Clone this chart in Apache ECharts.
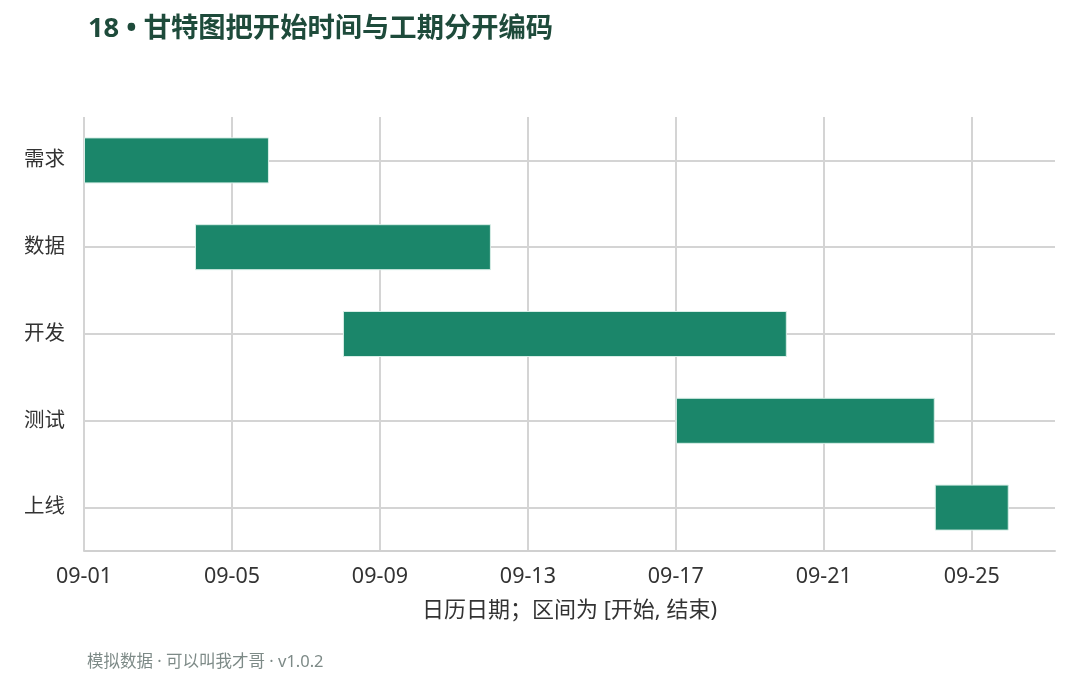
<!DOCTYPE html>
<html>
<head>
<meta charset="utf-8">
<script src="https://cdn.jsdelivr.net/npm/echarts@6/dist/echarts.min.js"></script>
<style>
html,body{margin:0;padding:0;background:#fff;}
#c{width:1080px;height:675px;}
</style>
</head>
<body>
<div id="c"></div>
<script>
const tasks = ['需求', '数据', '开发', '测试', '上线'];
const startDates = ['09-01', '09-04', '09-08', '09-17', '09-24'];
const durations = [5, 8, 12, 7, 2];

const dayIndex = s => parseInt(s.slice(3), 10) - 1;
const offsets = startDates.map(dayIndex);
const fmtDay = v => '09-' + String(Math.round(v) + 1).padStart(2, '0');

const FONT = '"Noto Sans", "Noto Sans CJK SC", sans-serif';
const chart = echarts.init(document.getElementById('c'));
chart.setOption({
  backgroundColor: '#ffffff',
  animation: false,
  textStyle: { fontFamily: FONT },
  title: {
    text: '18 • 甘特图把开始时间与工期分开编码',
    left: 83, top: 11,
    textStyle: { fontSize: 27.3, fontWeight: 'bold', color: '#1e4b3b', fontFamily: FONT }
  },
  graphic: [{
    type: 'text', left: 87, top: 654,
    style: { text: '模拟数据 · 可以叫我才哥 · v1.0.2', fontSize: 16.5, fill: '#7d8a87', fontFamily: FONT }
  }],
  grid: { left: 84, right: 25, top: 117, bottom: 124, containLabel: false },
  xAxis: {
    type: 'value', min: 0, max: 26.25, interval: 4,
    name: '日历日期；区间为 [开始, 结束)',
    nameLocation: 'middle', nameGap: 49,
    nameTextStyle: { fontSize: 22, color: '#333', fontFamily: FONT },
    axisLine: { show: true, lineStyle: { color: '#d0d0d0', width: 2 } },
    axisTick: { show: false },
    axisLabel: { fontSize: 21.5, color: '#333', margin: 15, showMaxLabel: false, formatter: fmtDay, fontFamily: FONT },
    splitLine: { show: true, showMaxLine: false, lineStyle: { color: '#d4d4d4', width: 2 } }
  },
  yAxis: {
    type: 'category', data: tasks, inverse: true,
    axisLine: { show: false },
    axisTick: { show: false, alignWithLabel: true },
    axisLabel: { fontSize: 20.5, color: '#333', margin: 19, fontFamily: FONT, padding: [7, 0, 0, 0] },
    splitLine: { show: true, alignWithLabel: true, lineStyle: { color: '#d4d4d4', width: 2 } }
  },
  series: [
    {
      name: '开始', type: 'bar', stack: 'g', data: offsets,
      itemStyle: { color: 'transparent' }, barWidth: 46, silent: true
    },
    {
      name: '工期', type: 'bar', stack: 'g', data: durations,
      itemStyle: { color: '#1b866a', borderColor: '#d8eee7', borderWidth: 1 }, barWidth: 46
    }
  ]
});
</script>
</body>
</html>
